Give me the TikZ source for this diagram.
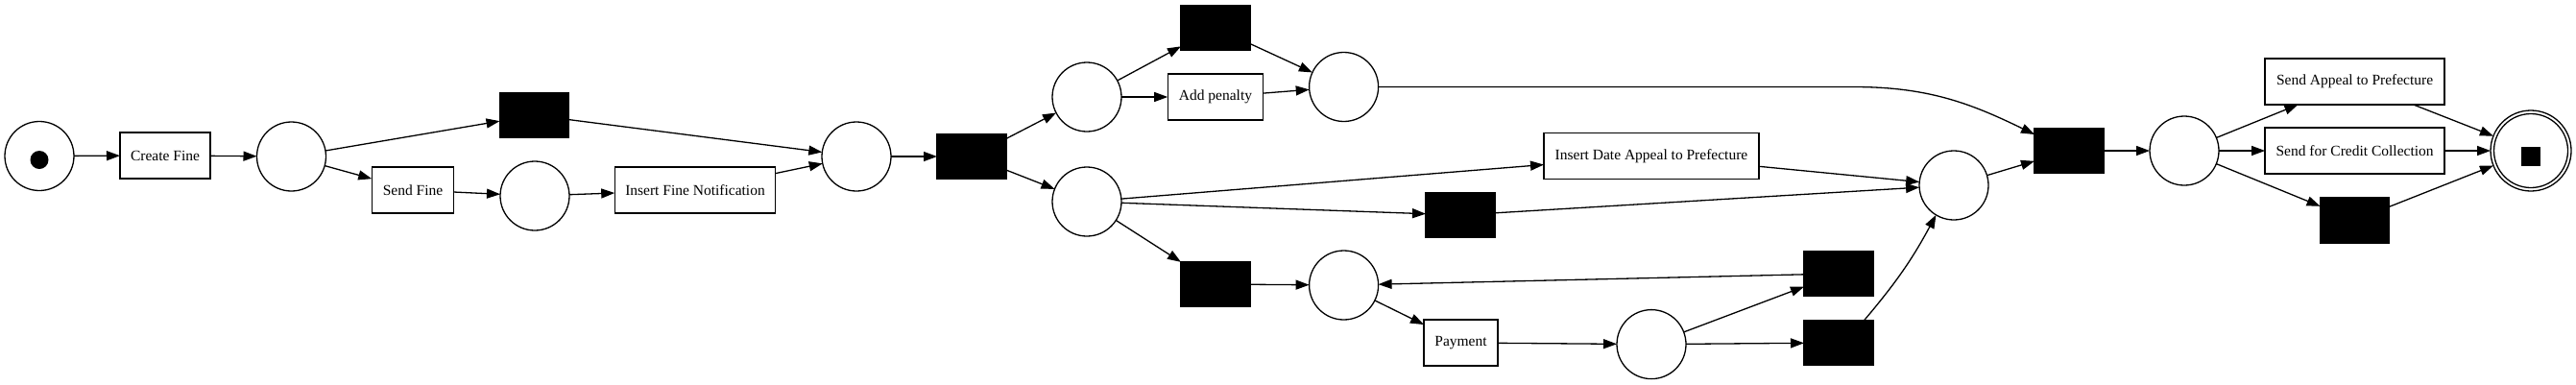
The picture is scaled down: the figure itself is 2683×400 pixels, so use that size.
\documentclass[tikz,border=0pt]{standalone}
\usepackage{fontspec}
\setmainfont{Liberation Serif}
\usetikzlibrary{arrows.meta}
\begin{document}
\begin{tikzpicture}[x=1pt,y=-1pt,
  every node/.style={inner sep=0pt, outer sep=0pt, line width=1.3pt},
  place/.style={circle, draw, minimum size=72pt},
  task/.style={rectangle, draw, minimum height=48pt, font=\fontsize{15.5}{18}\selectfont},
  silent/.style={rectangle, fill=black, draw=black, minimum width=72pt, minimum height=47pt},
  arc/.style={line width=1.3pt, -{Triangle[length=14pt,width=10pt]}}
]
\useasboundingbox (0,0) rectangle (2683,400);
% places
\node[place] (p0) at (41,162.5) {};
\node[circle, fill=black, minimum size=19pt] (tok) at (41,166.5) {};
\node[place] (p1) at (303.5,163) {};
\node[place] (p2) at (557,204) {};
\node[place] (p3) at (892,163) {};
\node[place] (p4) at (1132,101) {};
\node[place] (p5) at (1132,210) {};
\node[place] (p6) at (1399.6,90.5) {};
\node[place] (p7) at (1399.6,297) {};
\node[place] (p8) at (1720,358.6) {};
\node[place] (p9) at (2035,193) {};
\node[place] (p10) at (2275,157) {};
\node[circle, draw, minimum size=84pt] (end) at (2636,157) {};
\node[circle, draw, minimum size=77pt] (endin) at (2636,157) {};
\node[rectangle, fill=black, minimum size=20pt] (endsq) at (2636,163) {};
% labelled transitions
\node[task, minimum width=94pt] (cf) at (172,162) {Create Fine};
\node[task, minimum width=85.5pt] (sf) at (430,198) {Send Fine};
\node[task, minimum width=167.6pt] (ifn) at (724,198) {Insert Fine Notification};
\node[task, minimum width=99.6pt] (ap) at (1266,101) {Add penalty};
\node[task, minimum width=224pt] (ida) at (1720,162.5) {Insert Date Appeal to Prefecture};
\node[task, minimum width=77pt] (pay) at (1521.5,357) {Payment};
\node[task, minimum width=187pt] (sap) at (2452.6,85) {Send Appeal to Prefecture};
\node[task, minimum width=187pt] (scc) at (2452.6,157) {Send for Credit Collection};
% silent transitions
\node[silent] (t1) at (556.5,120) {};
\node[silent] (t2) at (1012,163) {};
\node[silent] (t3) at (1266,29) {};
\node[silent] (t4) at (1521,224) {};
\node[silent] (t5) at (1266,296) {};
\node[silent] (t6) at (1915,285) {};
\node[silent] (t7) at (1915,357) {};
\node[silent] (t8) at (2155,157) {};
\node[silent] (t9) at (2452.6,229.5) {};
\coordinate (c1) at (1930,90.5);
% arcs
\draw[arc] (p0) -- (cf);
\draw[arc] (cf) -- (p1);
\draw[arc] (p1) -- (t1);
\draw[arc] (p1) -- (sf);
\draw[arc] (sf) -- (p2);
\draw[arc] (p2) -- (ifn);
\draw[arc] (ifn) -- (p3);
\draw[arc] (t1) -- (p3);
\draw[arc] (p3) -- (t2);
\draw[arc] (t2) -- (p4);
\draw[arc] (t2) -- (p5);
\draw[arc] (p4) -- (t3);
\draw[arc] (p4) -- (ap);
\draw[arc] (t3) -- (p6);
\draw[arc] (ap) -- (p6);
\draw[arc] (p6.east) -- (c1) to[out=0,in=154] ([yshift=17pt]t8.west);
\draw[arc] (p5) -- (ida);
\draw[arc] (p5) -- (t4);
\draw[arc] (p5) -- (t5);
\draw[arc] (t5) -- (p7);
\draw[arc] (p7) -- (pay);
\draw[arc] (pay) -- (p8);
\draw[arc] (p8) -- (t6);
\draw[arc] (p8) -- (t7);
\draw[arc] (t6) -- (p7);
\draw[arc] ([xshift=26.7pt]t7.north) to[bend right=6] (p9.239);
\draw[arc] (ida) -- (p9);
\draw[arc] (t4) -- (p9);
\draw[arc] (p9) -- (t8);
\draw[arc] (t8) -- (p10);
\draw[arc] (p10) -- (sap);
\draw[arc] (p10) -- (scc);
\draw[arc] (p10) -- (t9);
\draw[arc] (sap) -- (end);
\draw[arc] (scc) -- (end);
\draw[arc] (t9) -- (end);
\end{tikzpicture}
\end{document}
